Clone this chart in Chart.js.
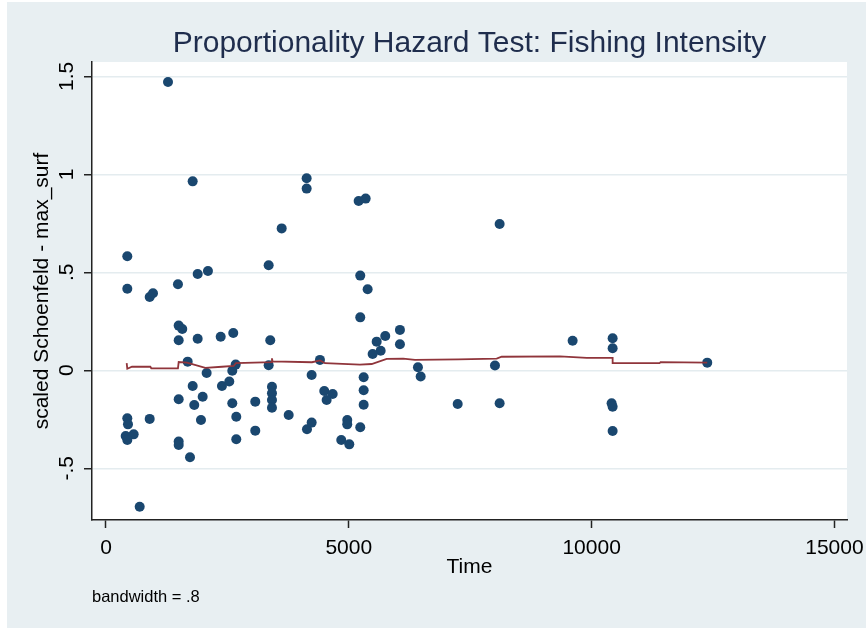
<!DOCTYPE html>
<html>
<head>
<meta charset="utf-8">
<script src="https://cdn.jsdelivr.net/npm/chart.js@4.4.1/dist/chart.umd.min.js"></script>
<style>
  html, body { margin: 0; padding: 0; background: #fff; }
  #wrap { position: absolute; left: 7px; top: 2px; width: 859px; height: 626px; }
</style>
</head>
<body>
<div id="wrap"><canvas id="phChart" width="859" height="626"></canvas></div>
<script>
// ─── Data ─────────────────────────────────────────────────────
const timeVals = [
  1277, 1785, 439, 439, 900, 968, 1482, 1888, 2100, 3350,
  1497, 1571, 1497, 1888, 2362, 2621, 3383, 1682, 2073, 2671,
  2601, 3350, 4235, 4406, 1785, 2388, 2539, 3418, 3418, 3418,
  3418, 1497, 1818, 1991, 2601, 3074, 439, 453, 900, 1956,
  2683, 3762, 4139, 4235, 406, 570, 439, 1497, 1497, 2683,
  3074, 1730, 694, 3618, 4132, 4132, 5203, 5347, 8106, 5236,
  5388, 5236, 6053, 6053, 5751, 5574, 5656, 5491, 6424, 6480,
  8010, 5306, 5306, 5306, 4495, 4668, 4544, 7242, 8106, 4968,
  4968, 5236, 4845, 5010, 9609, 10433, 10433, 10412, 10433, 10433,
  12381
];
const schoenfeldVals = [
  1.471, 0.964, 0.582, 0.416, 0.374, 0.393, 0.439, 0.491, 0.507, 0.536,
  0.228, 0.211, 0.153, 0.161, 0.171, 0.190, 0.153, 0.044, -0.014, 0.029,
  -0.002, 0.026, -0.024, 0.053, -0.080, -0.080, -0.057, -0.084, -0.117, -0.152,
  -0.191, -0.148, -0.177, -0.135, -0.168, -0.160, -0.245, -0.276, -0.248, -0.254,
  -0.237, -0.228, -0.301, -0.267, -0.335, -0.327, -0.356, -0.364, -0.381, -0.352,
  -0.308, -0.444, -0.696, 0.724, 0.980, 0.927, 0.864, 0.876, 0.746, 0.483,
  0.413, 0.270, 0.206, 0.133, 0.175, 0.146, 0.100, 0.083, 0.015, -0.032,
  0.024, -0.036, -0.102, -0.176, -0.106, -0.121, -0.152, -0.172, -0.168, -0.254,
  -0.276, -0.291, -0.356, -0.378, 0.151, 0.163, 0.112, -0.168, -0.186, -0.310,
  0.039
];

// lowess smooth (bandwidth .8)
const smoothX = [426, 439, 535, 913, 933, 1482, 1497, 1668, 2045, 2388, 2629, 2677, 3418, 3418, 3430,
  4241, 4406, 4509, 5230, 5471, 5780, 6121, 6362, 7254, 8045, 8148, 9348, 9900, 10433, 10433, 11400, 11420, 12381];
const smoothY = [0.036, 0.008, 0.018, 0.018, 0.010, 0.010, 0.042, 0.039, 0.012, 0.018, 0.022, 0.037, 0.041, 0.061, 0.045,
  0.041, 0.050, 0.036, 0.029, 0.032, 0.058, 0.059, 0.053, 0.056, 0.059, 0.069, 0.071, 0.063, 0.063, 0.036, 0.036, 0.042, 0.039];

const xTicks = [0, 5000, 10000, 15000];
const xTickLabels = ['0', '5000', '10000', '15000'];
const yTicks = [-0.5, 0, 0.5, 1, 1.5];
const yTickLabels = ['-.5', '0', '.5', '1', '1.5'];

// ─── Style ───────────────────────────────────────────────────
const FONT = '"Liberation Sans", Arial, Helvetica, sans-serif';
const BG = '#e8eff2';
const NAVY = '#1a476f';
const MAROON = '#90353b';
const AXIS = '#222222';

const bgPlugin = {
    id: 'stataBg',
    beforeDraw(chart) {
        const { ctx, chartArea: a } = chart;
        ctx.save();
        ctx.fillStyle = BG;
        ctx.fillRect(0, 0, chart.width, chart.height);
        ctx.fillStyle = '#ffffff';
        ctx.fillRect(a.left, a.top, a.right - a.left, a.bottom - a.top);
        ctx.restore();
    }
};

const ctx = document.getElementById('phChart').getContext('2d');

new Chart(ctx, {
    type: 'scatter',
    data: {
        datasets: [
            {
                type: 'line',
                label: 'lowess',
                data: smoothX.map((x, i) => ({ x: x, y: smoothY[i] })),
                borderColor: MAROON,
                borderWidth: 1.8,
                pointRadius: 0,
                tension: 0,
                fill: false,
                order: 0
            },
            {
                label: 'scaled Schoenfeld',
                data: timeVals.map((x, i) => ({ x: x, y: schoenfeldVals[i] })),
                pointRadius: 5,
                pointBackgroundColor: NAVY,
                pointBorderWidth: 0,
                showLine: false,
                order: 1
            }
        ]
    },
    options: {
        responsive: false,
        animation: false,
        events: [],
        layout: { padding: { left: 0, right: 19, top: 0, bottom: 20.8 } },
        plugins: {
            legend: { display: false },
            tooltip: { enabled: false },
            title: {
                display: true,
                text: 'Proportionality Hazard Test: Fishing Intensity',
                color: '#1f2d4d',
                fullSize: false,
                font: { family: FONT, size: 30, weight: 'normal', lineHeight: 1.2 },
                padding: { top: 24, bottom: 0 }
            },
            subtitle: {
                display: true,
                text: 'bandwidth = .8',
                position: 'bottom',
                align: 'start',
                fullSize: false,
                color: '#000',
                font: { family: FONT, size: 16.5, weight: 'normal', lineHeight: 1.2 },
                padding: { top: 0, bottom: 0 }
            }
        },
        scales: {
            x: {
                type: 'linear',
                position: 'bottom',
                min: -288,
                max: 15259,
                border: { display: true, color: AXIS, width: 1.5 },
                grid: { drawOnChartArea: false, drawTicks: true, tickLength: 8, tickColor: AXIS, tickWidth: 1.5 },
                ticks: {
                    color: '#000',
                    font: { family: FONT, size: 21, lineHeight: 1 },
                    padding: 10,
                    maxRotation: 0,
                    callback: (v) => xTickLabels[xTicks.indexOf(v)]
                },
                title: {
                    display: true,
                    text: 'Time',
                    color: '#000',
                    font: { family: FONT, size: 21, lineHeight: 1 },
                    padding: { top: 0, bottom: 9.4 }
                },
                afterBuildTicks: (s) => { s.ticks = xTicks.map(v => ({ value: v })); },
                afterFit: (s) => { s.height = 67.4; s.paddingLeft = 0; s.paddingRight = 0; }
            },
            y: {
                type: 'linear',
                min: -0.764,
                max: 1.573,
                border: { display: true, color: AXIS, width: 1.5 },
                grid: { color: '#e4ecef', lineWidth: 1.5, tickLength: 8, tickColor: AXIS, tickWidth: 1.5 },
                ticks: {
                    color: '#000',
                    font: { family: FONT, size: 21, lineHeight: 1 },
                    minRotation: 90,
                    maxRotation: 90,
                    crossAlign: 'center',
                    padding: 2.7,
                    callback: (v) => yTickLabels[yTicks.indexOf(v)]
                },
                title: {
                    display: true,
                    text: 'scaled Schoenfeld - max_surf',
                    color: '#000',
                    font: { family: FONT, size: 21, lineHeight: 1 },
                    padding: { top: 25.2, bottom: 0 }
                },
                afterBuildTicks: (s) => { s.ticks = yTicks.map(v => ({ value: v })); },
                afterFit: (s) => { s.width = 85; s.paddingTop = 0; s.paddingBottom = 0; }
            }
        }
    },
    plugins: [bgPlugin]
});
</script>
</body>
</html>
